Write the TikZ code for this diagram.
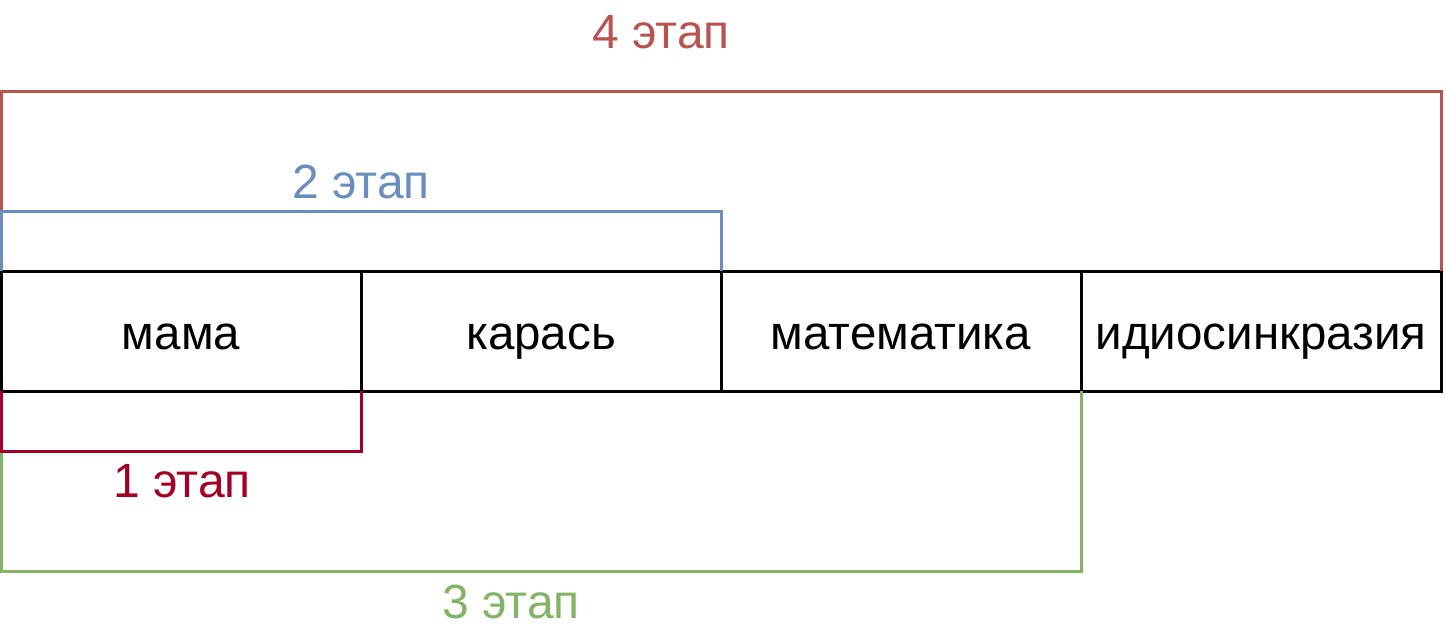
\documentclass[tikz,border=0pt]{standalone}
\usepackage{fontspec}
\setmainfont{Liberation Sans}
\definecolor{cred}{HTML}{B85450}
\definecolor{cblue}{HTML}{6C8EBF}
\definecolor{cgreen}{HTML}{82B366}
\definecolor{ccrim}{HTML}{A20025}
\begin{document}
\begin{tikzpicture}[x=1pt,y=-1pt,
  cell/.style={draw=black,line width=3pt,minimum width=360pt,minimum height=120pt,inner sep=0pt,outer sep=0pt,
    text height=40pt,text depth=4pt,font=\fontsize{47.5}{56}\selectfont,anchor=north west},
  brk/.style={line width=3pt},
  lbl/.style={font=\fontsize{48}{56}\selectfont,inner sep=0pt,anchor=base}]
\useasboundingbox (0,0) rectangle (1446,633);
\node[cell] (c1) at (1,271) {мама};
\node[cell] (c2) at (361,271) {карась};
\node[cell] (c3) at (721,271) {математика};
\node[cell] (c4) at (1081,271) {идиосинкразия};
% red 4
\draw[brk,cred] (c1.north west) -- ++(0,-180) -| (c4.north east);
\node[lbl,text=cred] (l4) at (661,48) {4 этап};
% blue 2
\draw[brk,cblue] (c1.north west) -- ++(0,-60) -| (c2.north east);
\node[lbl,text=cblue] (l2) at (361,198) {2 этап};
% green 3
\draw[brk,cgreen] (c1.south west) -- ++(0,180) -| (c3.south east);
\node[lbl,text=cgreen] (l3) at (511,618) {3 этап};
% crimson 1
\draw[brk,ccrim] (c1.south west) -- ++(0,60) -| (c1.south east);
\node[lbl,text=ccrim] (l1) at (182,497) {1 этап};
\end{tikzpicture}
\end{document}
